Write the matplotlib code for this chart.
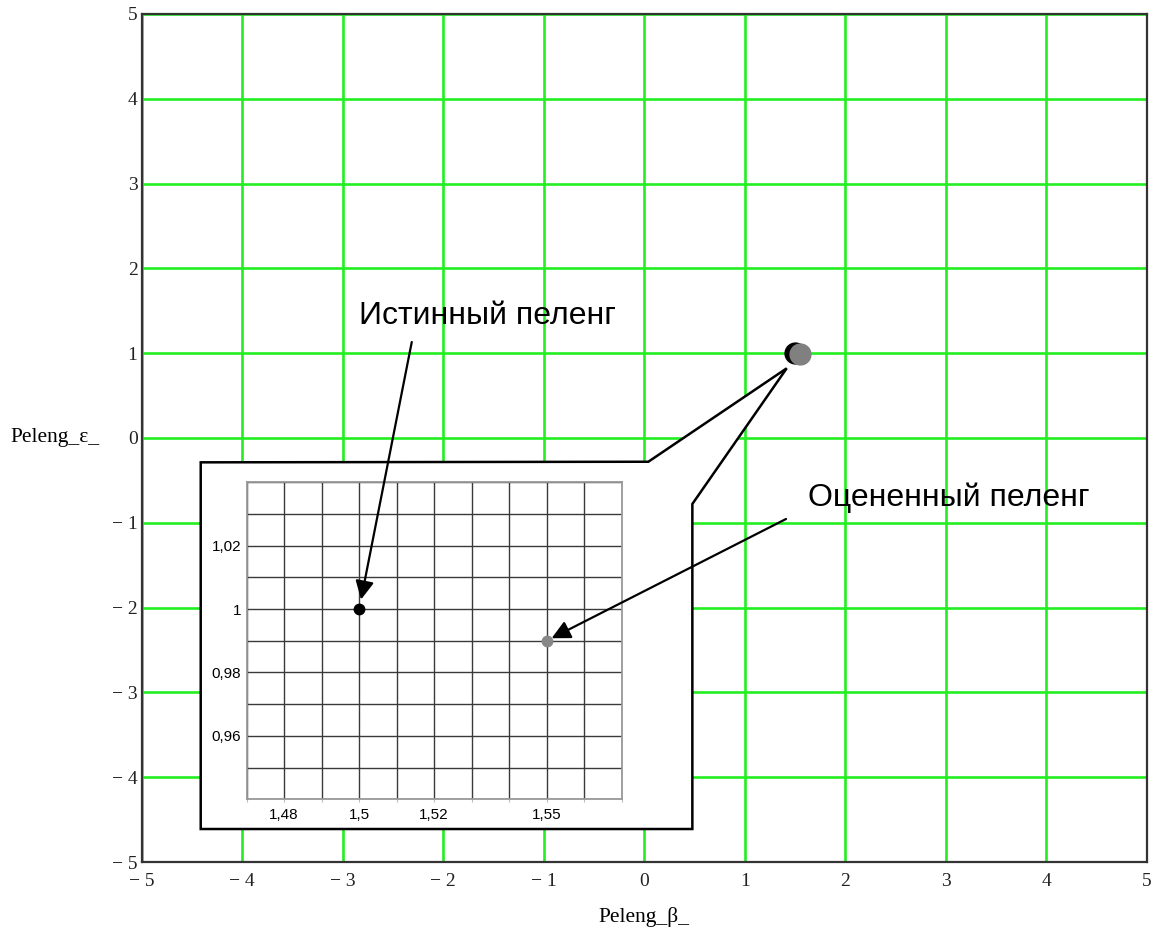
import numpy as np
import matplotlib
matplotlib.use("Agg")
from matplotlib import pyplot as plt
from matplotlib.patches import Polygon

# данные: истинный и оцененный пеленг
true_beta = [1.5]
true_eps = [1.0]
est_beta = [1.55]
est_eps = [0.99]

main_ticks = [-5, -4, -3, -2, -1, 0, 1, 2, 3, 4, 5]

inset_xgrid = [1.47, 1.48, 1.49, 1.50, 1.51, 1.52, 1.53, 1.54, 1.55, 1.56, 1.57]
inset_xlabels = ['', '1,48', '', '1,5', '', '1,52', '', '', '1,55', '', '']
inset_ygrid = [0.94, 0.95, 0.96, 0.97, 0.98, 0.99, 1.00, 1.01, 1.02, 1.03, 1.04]
inset_ylabels = ['', '', '0,96', '', '0,98', '', '1', '', '1,02', '', '']

label_true = 'Истинный пеленг'
label_est = 'Оцененный пеленг'

serif = ['Liberation Serif', 'DejaVu Serif']
sans = ['Liberation Sans', 'DejaVu Sans']

fig = plt.figure(figsize=(11.57, 9.39), dpi=100)
ax = fig.add_axes([0.1225, 0.082, 0.8686, 0.9031])

ax.set_xlim(-5, 5)
ax.set_ylim(-5, 5)
ax.set_xticks(main_ticks)
ax.set_yticks(main_ticks)
fmt = lambda v: f'\u2212 {abs(v)}' if v < 0 else str(v)
ax.set_xticklabels([fmt(v) for v in main_ticks], family=serif, fontsize=14, color='#222222')
ax.set_yticklabels([fmt(v) for v in main_ticks], family=serif, fontsize=14, color='#222222')
ax.tick_params(axis='x', length=0, pad=8)
ax.tick_params(axis='y', length=0, pad=3)
ax.grid(True, color='#22ee22', linewidth=1.9, zorder=0)
ax.set_axisbelow(True)
for s in ax.spines.values():
    s.set_color('#333333')
    s.set_linewidth(1.6)

ax.set_xlabel('Peleng_β_', family=serif, fontsize=15.5)
ax.xaxis.set_label_coords(0.5, -0.053)
ax.set_ylabel('Peleng_ε_', family=serif, fontsize=15.5, rotation=0, ha='left', va='center')
ax.yaxis.set_label_coords(-0.131, 0.5)

# точки на основном графике
ax.plot(true_beta, true_eps, 'o', color='black', markersize=15, zorder=4)
ax.plot(est_beta, est_eps, 'o', color='#808080', markersize=15, zorder=5)

# выноска
callout = Polygon([(0.0587, 0.4713), (0.5041, 0.4720), (0.6418, 0.5822),
                   (0.5479, 0.4222), (0.5479, 0.0389), (0.0587, 0.0389)],
                  closed=True, transform=ax.transAxes, facecolor='white',
                  edgecolor='black', linewidth=1.8, zorder=3, clip_on=False)
ax.add_patch(callout)

# увеличенный фрагмент
axi = fig.add_axes([0.2132, 0.1488, 0.3241, 0.3376])
axi.set_xlim(1.47, 1.57)
axi.set_ylim(0.94, 1.04)
axi.set_xticks(inset_xgrid)
axi.set_yticks(inset_ygrid)
axi.set_xticklabels(inset_xlabels, family=sans, fontsize=11)
axi.set_yticklabels(inset_ylabels, family=sans, fontsize=11)
axi.tick_params(axis='x', length=2, color='#bbbbbb', pad=4)
axi.tick_params(axis='y', length=0, pad=4)
axi.grid(True, color='#3a3a3a', linewidth=1.0)
axi.set_axisbelow(True)
for s in axi.spines.values():
    s.set_color('#999999')
    s.set_linewidth(1.3)

axi.plot(true_beta, true_eps, 'o', color='black', markersize=7.5, zorder=4)
axi.plot(est_beta, est_eps, 'o', color='#888888', markersize=7.5, zorder=4)

# подписи и стрелки
ax.text(-1.562, 1.341, label_true, family=sans, fontsize=23, ha='center', va='baseline', zorder=6)
ax.text(3.028, -0.798, label_est, family=sans, fontsize=23, ha='center', va='baseline', zorder=6)

arrow = dict(arrowstyle='-|>,head_length=0.8,head_width=0.4', mutation_scale=14,
             color='black', linewidth=1.6, shrinkA=0)
axi.annotate('', xy=(true_beta[0], true_eps[0]), xycoords='data',
             xytext=(-2.313, 1.132), textcoords=ax.transData,
             arrowprops=dict(arrow, shrinkB=7), annotation_clip=False, zorder=7)
axi.annotate('', xy=(est_beta[0], est_eps[0]), xycoords='data',
             xytext=(1.411, -0.955), textcoords=ax.transData,
             arrowprops=dict(arrow, shrinkB=4), annotation_clip=False, zorder=7)

fig.savefig('out.png', dpi=100)
